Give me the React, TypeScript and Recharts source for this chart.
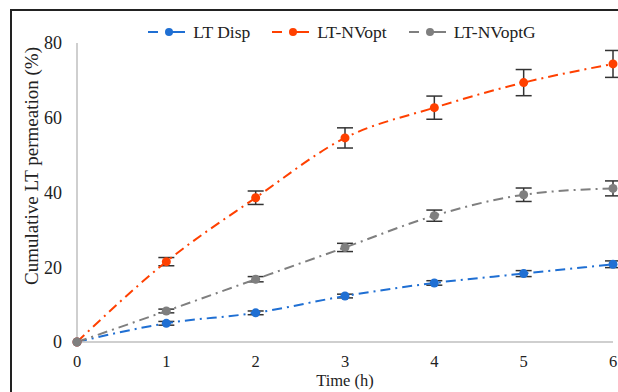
import React from "react";
import {
  LineChart,
  Line,
  XAxis,
  YAxis,
  ErrorBar,
  Legend,
  Label,
} from "recharts";

const hours = [0, 1, 2, 3, 4, 5, 6];
const ltDisp = [0, 5.0, 7.8, 12.3, 15.8, 18.3, 20.8];
const ltDispErr = [0, 0.5, 0.5, 0.5, 0.6, 0.8, 0.9];
const ltNvopt = [0, 21.5, 38.6, 54.6, 62.7, 69.4, 74.4];
const ltNvoptErr = [0, 1.1, 1.8, 2.7, 3.1, 3.5, 3.6];
const ltNvoptG = [0, 8.3, 16.8, 25.3, 33.8, 39.4, 41.1];
const ltNvoptGErr = [0, 0.5, 0.7, 1.1, 1.5, 1.8, 2.0];
const yTicks = [0, 20, 40, 60, 80];

const data = hours.map((h, i) => ({
  t: h,
  disp: ltDisp[i],
  dispErr: ltDispErr[i],
  nv: ltNvopt[i],
  nvErr: ltNvoptErr[i],
  nvg: ltNvoptG[i],
  nvgErr: ltNvoptGErr[i],
}));

const series = [
  { key: "disp", err: "dispErr", name: "LT Disp", color: "#1F6FD3" },
  { key: "nv", err: "nvErr", name: "LT-NVopt", color: "#FF4000" },
  { key: "nvg", err: "nvgErr", name: "LT-NVoptG", color: "#7F7F7F" },
];

const FONT = "'Liberation Serif', 'Times New Roman', serif";

const LegendContent = () => (
  <div
    style={{
      display: "flex",
      justifyContent: "center",
      gap: 22,
      fontFamily: FONT,
      fontSize: 17.5,
      color: "#222",
      paddingLeft: 66,
      lineHeight: "20px",
    }}
  >
    {series.map((s) => (
      <span key={s.key} style={{ display: "flex", alignItems: "center", gap: 8 }}>
        <svg width={37} height={10}>
          <line x1={0} y1={5} x2={10} y2={5} stroke={s.color} strokeWidth={2} />
          <line x1={22} y1={5} x2={37} y2={5} stroke={s.color} strokeWidth={2} />
          <circle cx={21} cy={5} r={4} fill={s.color} />
        </svg>
        {s.name}
      </span>
    ))}
  </div>
);

const YTitle = () => (
  <text
    x={38}
    y={166}
    transform="rotate(-90, 38, 166)"
    textAnchor="middle"
    fontSize={19}
    fill="#222"
    fontFamily={FONT}
  >
    Cumulative LT permeation (%)
  </text>
);

export default function App() {
  return (
    <div style={{ position: "absolute", left: 0, top: 0, width: 618, height: 392, background: "#fff", overflow: "hidden" }}>
      <div
        style={{
          position: "absolute",
          left: 10,
          top: 9,
          width: 700,
          height: 500,
          border: "2px solid #222",
          boxSizing: "border-box",
        }}
      />
      <div style={{ position: "absolute", left: 0, top: 0 }}>
        <LineChart
          width={623}
          height={392}
          data={data}
          margin={{ top: 23, right: 10, bottom: 0, left: 30 }}
        >
          <XAxis
            dataKey="t"
            type="number"
            domain={[0, 6]}
            ticks={hours}
            tickLine={false}
            axisLine={{ stroke: "#BFBFBF", strokeWidth: 1.5 }}
            tick={{ fontSize: 16.5, fill: "#222", fontFamily: FONT }}
            tickMargin={7}
            height={50}
          >
            <Label value="Time (h)" position="insideBottom" offset={6} style={{ fontSize: 16.5, fill: "#222", fontFamily: FONT }} />
          </XAxis>
          <YAxis
            domain={[0, 80]}
            ticks={yTicks}
            tickLine={false}
            axisLine={{ stroke: "#BFBFBF", strokeWidth: 1.5 }}
            tick={{ fontSize: 18, fill: "#222", fontFamily: FONT }}
            tickMargin={9}
            width={47}
          >
            <Label content={<YTitle />} />
          </YAxis>
          <Legend
            verticalAlign="top"
            align="center"
            content={<LegendContent />}
            wrapperStyle={{ top: 22, left: 0, width: 618 }}
          />
          {series.map((s) => (
            <Line
              key={s.key}
              type="monotone"
              dataKey={s.key}
              name={s.name}
              stroke={s.color}
              strokeWidth={2}
              strokeDasharray="10 5 2 5"
              dot={{ r: 4.5, fill: s.color, stroke: s.color, strokeWidth: 0 }}
              isAnimationActive={false}
            >
              <ErrorBar dataKey={s.err} width={8} stroke="#333" strokeWidth={1.5} direction="y" />
            </Line>
          ))}
        </LineChart>
      </div>
    </div>
  );
}
